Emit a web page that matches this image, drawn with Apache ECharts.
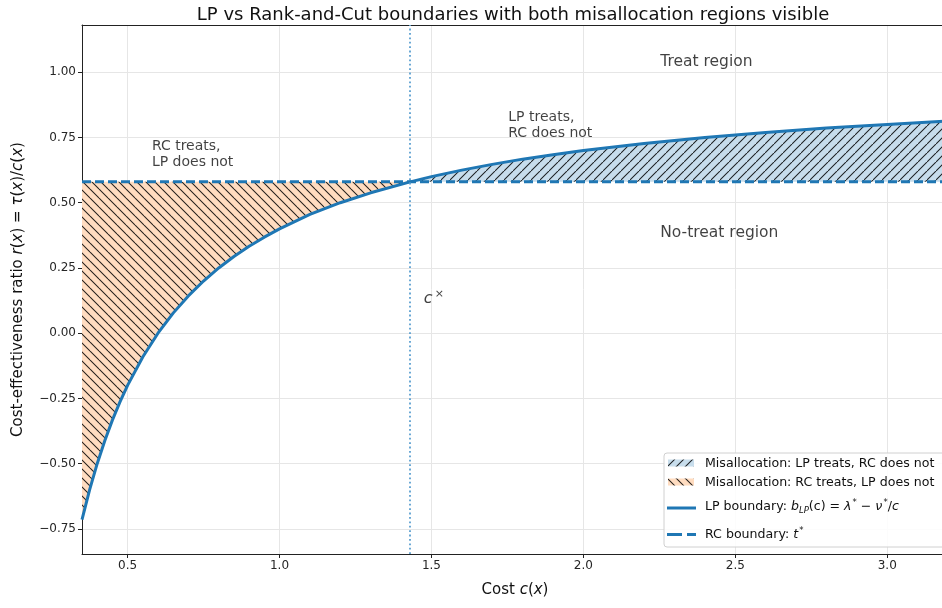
<!DOCTYPE html>
<html>
<head>
<meta charset="utf-8">
<script src="https://cdn.jsdelivr.net/npm/echarts@6/dist/echarts.min.js"></script>
<style>
html,body{margin:0;padding:0;background:#fff;overflow:hidden;width:942px;height:608px;}
#chart{width:948px;height:608px;}
</style>
</head>
<body>
<div id="chart"></div>
<script>
// ---- data ----
const cost = [0.35,0.375,0.40,0.425,0.45,0.475,0.50,0.55,0.60,0.65,0.70,0.75,0.80,0.85,0.90,0.95,1.00,1.10,1.20,1.30,1.43,1.50,1.60,1.70,1.80,1.90,2.00,2.20,2.40,2.60,2.80,3.00,3.20];
const lpBoundary = [-0.714,-0.600,-0.500,-0.412,-0.333,-0.263,-0.200,-0.091,0.000,0.077,0.143,0.200,0.250,0.294,0.333,0.368,0.400,0.455,0.500,0.538,0.580,0.600,0.625,0.647,0.667,0.684,0.700,0.727,0.750,0.769,0.786,0.800,0.813];
const tStar = 0.58;
const cCross = 1.43;
const xTicks = [0.5,1.0,1.5,2.0,2.5,3.0];
const yTicks = [-0.75,-0.50,-0.25,0.00,0.25,0.50,0.75,1.00];
const annotations = [
  [0.58, 0.686, 'RC treats,\nLP does not', 14],
  [1.753, 0.797, 'LP treats,\nRC does not', 14],
  [2.253, 1.039, 'Treat region', 15.5],
  [2.253, 0.383, 'No-treat region', 15.5]
];
const crossLabel = [1.475, 0.131];

const FONT = '"DejaVu Sans", sans-serif';
const BLUE = '#1f77b4';
const TXT = '#111';

function makeHatch(bg, forward) {
  const s = 9;
  const cv = document.createElement('canvas');
  cv.width = s; cv.height = s;
  const ctx = cv.getContext('2d');
  ctx.fillStyle = bg; ctx.fillRect(0, 0, s, s);
  ctx.strokeStyle = 'rgba(0,0,0,0.85)';
  ctx.lineWidth = 1.05;
  ctx.beginPath();
  if (forward) {
    ctx.moveTo(0, s); ctx.lineTo(s, 0);
    ctx.moveTo(-s, s); ctx.lineTo(0, 0);
    ctx.moveTo(s, 2*s); ctx.lineTo(2*s, s);
  } else {
    ctx.moveTo(0, 0); ctx.lineTo(s, s);
    ctx.moveTo(-s, 0); ctx.lineTo(0, s);
    ctx.moveTo(s, -s); ctx.lineTo(2*s, 0);
    ctx.moveTo(s, 0); ctx.lineTo(2*s, s);
    ctx.moveTo(0, -s); ctx.lineTo(s, 0);
  }
  ctx.stroke();
  return cv;
}
const blueHatch = {image: makeHatch('#c7ddec', true), repeat: 'repeat'};
const orangeHatch = {image: makeHatch('#ffdcc0', false), repeat: 'repeat'};

function regionRender(sel, fill) {
  return function (params, api) {
    const pts = [];
    let firstC = null, lastC = null;
    cost.forEach(function (c, i) {
      if (sel(c)) {
        if (firstC === null) firstC = c;
        lastC = c;
        pts.push(api.coord([c, lpBoundary[i]]));
      }
    });
    pts.push(api.coord([lastC, tStar]));
    pts.push(api.coord([firstC, tStar]));
    return {type: 'polygon', shape: {points: pts}, style: {fill: fill, stroke: null}};
  };
}

const chart = echarts.init(document.getElementById('chart'), null, {renderer: 'canvas'});
const yMin = -0.846, yMax = 1.181;
const xMin = cost[0], xMax = cost[cost.length - 1];
const option = {
  animation: false,
  backgroundColor: '#fff',
  title: {
    text: 'LP vs Rank-and-Cut boundaries with both misallocation regions visible',
    left: 508, top: 1, textAlign: 'center',
    textStyle: {fontFamily: FONT, fontSize: 18, fontWeight: 'normal', color: TXT}
  },
  grid: {left: 82, right: 0, top: 25, bottom: 54, show: false},
  xAxis: [{
    type: 'value', min: xMin, max: xMax,
    name: 'Cost {i|c}({i|x})', nameLocation: 'middle', nameGap: 29,
    nameTextStyle: {fontFamily: FONT, fontSize: 15, color: TXT, rich: {i: {fontStyle: 'italic', fontFamily: FONT, fontSize: 15, color: TXT}}},
    axisLine: {show: true, onZero: false, lineStyle: {color: '#222', width: 1}},
    axisTick: {show: true, length: 4, customValues: xTicks, lineStyle: {color: '#222'}},
    axisLabel: {customValues: xTicks, fontFamily: FONT, fontSize: 12, color: '#262626', margin: 6, formatter: function (v) { return v.toFixed(1); }},
    splitLine: {show: true, lineStyle: {color: '#e6e6e6', width: 1}}
  }, {
    type: 'value', position: 'top', min: xMin, max: xMax,
    axisLine: {show: true, onZero: false, lineStyle: {color: '#222', width: 1}},
    axisTick: {show: false}, axisLabel: {show: false}, splitLine: {show: false}
  }],
  yAxis: {
    type: 'value', min: yMin, max: yMax,
    name: 'Cost-effectiveness ratio {i|r}({i|x}) = {i|τ}({i|x})/{i|c}({i|x})', nameLocation: 'middle', nameGap: 56, nameRotate: 90,
    nameTextStyle: {fontFamily: FONT, fontSize: 15, color: TXT, rich: {i: {fontStyle: 'italic', fontFamily: FONT, fontSize: 15, color: TXT}}},
    axisLine: {show: true, onZero: false, lineStyle: {color: '#222', width: 1}},
    axisTick: {show: true, length: 4, customValues: yTicks, lineStyle: {color: '#222'}},
    axisLabel: {customValues: yTicks, fontFamily: FONT, fontSize: 12, color: '#262626', margin: 6, formatter: function (v) { return (v < 0 ? '\u2212' : '') + Math.abs(v).toFixed(2); }},
    splitLine: {show: true, lineStyle: {color: '#e6e6e6', width: 1}}
  },
  series: [
    {type: 'custom', name: 'blueRegion', silent: true, clip: true, data: [[cCross, tStar]], renderItem: regionRender(function (c) { return c >= cCross; }, blueHatch), z: 1},
    {type: 'custom', name: 'orangeRegion', silent: true, clip: true, data: [[cCross, tStar]], renderItem: regionRender(function (c) { return c <= cCross; }, orangeHatch), z: 1},
    {
      type: 'line', name: 'cross', data: [], z: 2, silent: true,
      markLine: {silent: true, symbol: ['none', 'none'], label: {show: false},
        lineStyle: {color: '#5b9fd0', width: 1.8, type: [1.8, 2.6]}, data: [{xAxis: cCross}]}
    },
    {type: 'line', name: 'LP', data: cost.map(function (c, i) { return [c, lpBoundary[i]]; }), showSymbol: false, symbol: 'none', lineStyle: {color: BLUE, width: 3}, z: 3, silent: true},
    {type: 'line', name: 'RC', data: [[xMin, tStar], [xMax, tStar]], showSymbol: false, symbol: 'none', lineStyle: {color: BLUE, width: 3, type: [9, 4]}, z: 4, silent: true},
    {
      type: 'scatter', name: 'notes', symbolSize: 0, silent: true, z: 5,
      data: annotations.map(function (a) {
        return {value: [a[0], a[1]], text: a[2], label: {fontSize: a[3], lineHeight: a[3] + 2}};
      }),
      label: {show: true, position: [0, 0], align: 'left', verticalAlign: 'middle', fontFamily: FONT, fontSize: 14, lineHeight: 16, color: TXT,
        formatter: function (p) { return p.data.text; }}
    },
    {
      type: 'scatter', name: 'cx', symbolSize: 0, silent: true, z: 5,
      data: [crossLabel],
      label: {show: true, position: [0, 0], align: 'left', verticalAlign: 'middle', color: TXT,
        formatter: '{c|c}{s|×}',
        rich: {c: {fontFamily: FONT, fontStyle: 'italic', fontSize: 16, color: TXT}, s: {fontFamily: FONT, fontSize: 11, color: TXT, verticalAlign: 'top', padding: [0, 0, 10, 2]}}}
    }
  ],
  graphic: [
    {type: 'rect', shape: {x: 664, y: 453, width: 290, height: 94, r: 3}, style: {fill: 'rgba(255,255,255,0.85)', stroke: '#d0d0d0', lineWidth: 1}, z: 100},
    {type: 'rect', shape: {x: 668, y: 459.5, width: 26, height: 7}, style: {fill: blueHatch}, z: 101},
    {type: 'rect', shape: {x: 668, y: 478.5, width: 26, height: 7}, style: {fill: orangeHatch}, z: 101},
    {type: 'line', shape: {x1: 667, y1: 508, x2: 696, y2: 508}, style: {stroke: BLUE, lineWidth: 3}, z: 101},
    {type: 'line', shape: {x1: 667, y1: 534.5, x2: 696, y2: 534.5}, style: {stroke: BLUE, lineWidth: 3, lineDash: [15, 5]}, z: 101},
    {type: 'text', x: 705, y: 464, z: 101, style: {text: 'Misallocation: LP treats, RC does not', fontFamily: FONT, fontSize: 12.6, fill: TXT, verticalAlign: 'middle'}},
    {type: 'text', x: 705, y: 483, z: 101, style: {text: 'Misallocation: RC treats, LP does not', fontFamily: FONT, fontSize: 12.6, fill: TXT, verticalAlign: 'middle'}},
    {type: 'text', x: 705, y: 507, z: 101, style: {
      text: 'LP boundary: {i|b}{sub|LP}(c) = {i|λ}{sup|*} − {i|ν}{sup|*}/{i|c}',
      fontFamily: FONT, fontSize: 12.6, fill: TXT, verticalAlign: 'middle',
      rich: {
        i: {fontFamily: FONT, fontStyle: 'italic', fontSize: 12.6, fill: TXT},
        sub: {fontFamily: FONT, fontStyle: 'italic', fontSize: 8.5, fill: TXT, padding: [8, 0, 0, 0]},
        sup: {fontFamily: FONT, fontSize: 8.5, fill: TXT, padding: [0, 0, 8, 1]}
      }}},
    {type: 'text', x: 705, y: 535, z: 101, style: {
      text: 'RC boundary: {i|t}{sup|*}',
      fontFamily: FONT, fontSize: 12.6, fill: TXT, verticalAlign: 'middle',
      rich: {
        i: {fontFamily: FONT, fontStyle: 'italic', fontSize: 12.6, fill: TXT},
        sup: {fontFamily: FONT, fontSize: 8.5, fill: TXT, padding: [0, 0, 8, 1]}
      }}}
  ]
};
chart.setOption(option);
</script>
</body>
</html>
